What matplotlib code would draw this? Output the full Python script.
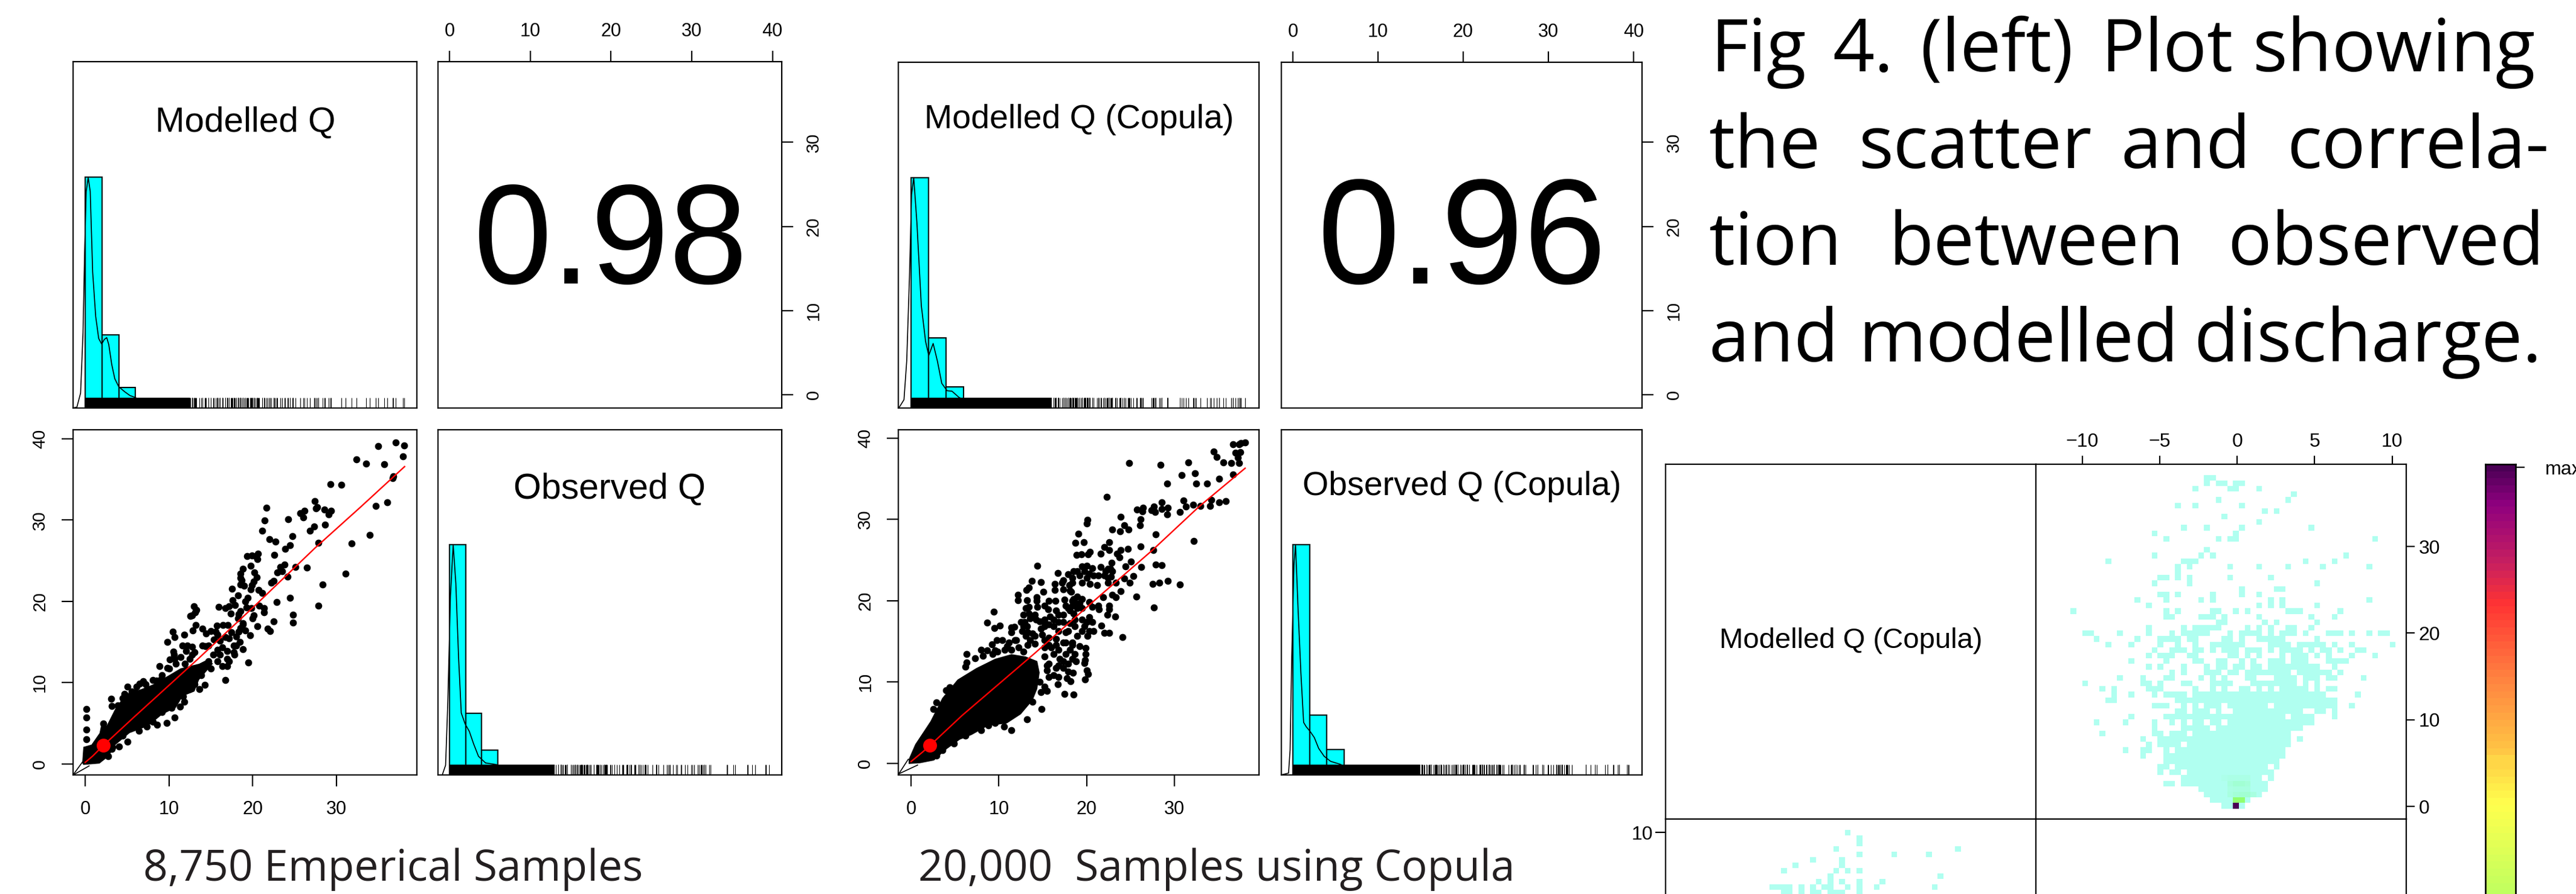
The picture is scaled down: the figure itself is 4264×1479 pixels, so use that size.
import numpy as np
import matplotlib
matplotlib.use("Agg")
import matplotlib.pyplot as plt
from matplotlib.colors import LinearSegmentedColormap

plt.rcParams['font.family'] = ['Liberation Sans', 'DejaVu Sans']

W, H = 4264, 1479

# ---- 8,750 empirical samples: modelled vs observed, points outside the solid mass
emp_x = [37.04,38.07,35.0,37.93,32.35,33.54,35.66,36.74,36.69,29.28,30.6,36.02,34.67,21.66,27.38,27.68,27.54,28.54,29.34,29.06,
         26.19,25.64,26.02,24.2,21.38,28.59,27.32,26.8,21.13,33.98,24.72,21.96,22.73,27.85,31.8,24.45,23.87,22.6,19.34,19.89,
         20.64,20.3,20.58,25.06,26.46,23.76,23.31,22.93,23.48,31.05,24.12,19.72,18.84,18.51,18.56,18.7,18.54,18.98,20.22,20.47,
         20.08,19.92,19.75,17.49,22.49,22.24,28.31,20.69,21.13,18.26,19.39,19.12,17.6,17.87,17.18,16.69,15.91,24.45,22.85,27.82,
         24.81,24.78,13.01,13.26,13.15,12.76,12.51,21.33,20.77,19.81,19.25,21.33,17.4,18.29,18.51,20.08,19.94,22.51,18.23,18.78,
         20.58,21.8,22.07,17.04,16.41,15.72,13.18,13.95,12.82,10.44,10.66,11.82,14.42,14.97,15.58,15.8,17.46,18.01,16.69,15.39,
         19.67,19.12,18.56,9.81,11.57,12.15,12.76,13.98,14.36,18.84,17.73,18.43,10.55,10.61,12.07,12.76,11.38,10.08,10.69,19.45,
         16.91,17.18,17.79,8.87,9.78,16.71,14.28,8.48,9.09,6.91,6.46,5.03,4.67,5.91,3.09,3.15,0.14,0.14,0.17,0.17,
         11.8,11.33,10.69,9.75,8.56,7.38,5.08,4.03,3.2,2.76,
         16.35,16.91,17.73,16.08,15.25,14.7,15.8,16.91,16.35,14.97,13.87,13.04,12.49,13.59,11.66,
         12.49,13.04,11.93,10.83,10.0,9.17,8.07,7.24,6.13,5.58,4.48,3.92,2.27,2.13,
         14.7,16.08,17.18,18.01,18.29,18.84,15.8,10.28,9.17,8.07,6.41,4.48,3.23]
emp_y = [39.55,39.2,39.12,37.87,37.5,36.93,36.87,35.42,35.14,34.4,34.37,32.2,31.72,31.55,32.32,31.58,31.44,31.3,31.12,30.73,
         31.18,30.87,30.3,30.07,29.93,29.47,29.19,28.7,28.68,28.19,28.05,27.65,27.34,27.23,27.11,26.91,26.49,25.69,25.6,25.66,
         25.86,25.6,25.18,24.24,24.15,24.52,24.21,23.56,23.7,23.39,23.02,24.35,23.98,23.41,22.9,22.56,22.05,21.9,23.56,22.99,
         22.42,21.99,21.51,21.56,22.48,22.28,22.08,21.37,21.05,20.71,20.43,20.0,20.14,19.57,19.37,19.2,19.29,20.43,19.94,19.43,
         18.35,17.41,19.37,18.98,18.63,18.24,18.18,19.15,19.43,19.15,19.23,18.66,18.52,18.44,18.8,18.29,17.87,17.5,17.87,17.3,
         16.93,16.67,16.36,17.1,17.07,17.01,17.1,16.64,16.39,16.27,15.59,15.87,16.01,16.36,16.3,15.87,16.16,15.68,15.59,15.31,
         15.79,16.44,16.73,15.02,14.59,14.59,14.37,14.59,14.45,14.08,14.59,15.02,13.8,13.46,13.88,13.46,13.17,12.83,12.89,12.49,
         12.03,12.6,13.46,12.03,11.83,10.33,9.7,10.24,10.47,10.18,9.84,9.47,8.62,8.76,7.97,7.11,6.71,5.69,4.21,3.02,
         7.62,7.06,5.69,5.01,4.78,4.58,2.7,2.16,1.85,0.94,
         14.31,13.88,13.74,13.46,13.46,12.6,12.6,12.89,12.03,11.75,10.9,9.76,9.19,9.19,8.34,
         12.89,13.74,12.32,12.32,11.75,10.9,10.33,9.76,9.47,8.9,8.05,7.2,4.35,4.92,
         14.59,15.16,15.45,14.59,16.3,17.16,14.03,6.91,6.34,5.21,4.07,3.5,2.08]
emp_mass_x = [-0.36,-0.22,0.75,1.71,1.99,2.54,3.65,4.89,6.69,8.07,10.0,11.38,13.59,14.7,15.25,
              13.59,13.04,11.66,10.83,9.17,7.51,5.3,3.65,2.82,1.71,-0.22]
emp_mass_y = [0.09,2.08,2.36,3.78,5.21,4.64,6.91,8.62,9.19,9.76,10.9,11.75,12.32,12.89,12.32,
              10.33,8.9,8.34,6.91,6.06,4.64,3.78,2.36,0.94,0.03,-0.14]
emp_fit_x = [0,0.88,2.13,5.86,13.59,20.5,27.4,32.92,38.12]
emp_fit_y = [0.17,0.94,2.22,5.78,13.03,19.71,26.54,31.66,36.59]
emp_centre = (2.18, 2.25)
emp_ellipse = [[(-1.46,-1.39),(0.47,-0.26)], [(-1.46,-1.39),(-0.22,0.37)]]

# ---- 20,000 copula samples
cop_x = [38.02,37.56,37.35,36.63,34.41,34.76,37.48,36.95,37.22,35.56,36.42,37.35,24.79,28.4,31.58,30.78,32.3,36.63,35.03,29.15,
         32.43,33.69,22.25,31.04,34.14,35.8,35.08,32.09,32.92,34.06,31.29,30.62,28.56,27.63,29.23,28.53,27.33,27.79,29.12,26.4,
         25.7,26.32,23.83,26.13,26.08,20.09,20.04,24.26,22.92,23.78,24.74,27.81,19.02,18.7,19.69,22.52,32.17,26.13,24.66,21.99,
         22.52,23.86,27.57,21.59,23.46,23.72,18.81,19.4,20.12,20.38,25.01,22.84,24.42,26.21,27.81,28.53,14.37,21.59,22.66,19.45,
         19.98,20.6,16.72,17.85,18.51,25.33,22.79,24.26,24.87,13.76,14.77,27.52,28.24,29.25,30.62,23.32,22.39,16.38,17.18,17.31,
         19.45,20.38,21.19,13.44,13.12,15.09,16.38,17.31,18.38,18.25,12.16,12.16,13.2,14.27,14.27,23.86,22.92,23.32,21.85,25.62,
         15.71,16.46,17.45,18.92,19.45,20.25,21.32,22.52,22.52,21.4,20.65,27.62,13.44,14.37,15.18,15.58,16.51,17.85,9.43,12.77,
         13.44,22.31,23.22,15.84,17.31,18.51,14.24,14.64,20.25,20.65,8.68,10.1,9.48,12.9,13.17,15.71,16.78,18.11,21.67,11.76,
         11.43,11.43,21.99,22.52,24.04,12.64,13.3,15.17,14.77,20.79,20.06,18.92,17.58,14.11,14.91,16.51,11.84,9.75,10.37,9.22,
         14.11,13.3,17.31,18.38,19.9,19.18,7.99,8.63,9.56,10.9,6.3,8.18,19.85,19.8,19.72,18.78,7.29,6.36,6.17,19.98,
         20.12,19.77,17.31,18.46,17.85,16.78,17.71,18.17,16.7,14.11,15.44,17.45,18.49,15.5,14.77,4.41,4.01,2.91,2.56,14.88,
         13.84,13.17,11.38,10.58,9.56,8.82,7.96,6.22,4.89,3.61,2.89,
         13.04,13.57,15.18,15.71,16.78,17.85,18.65,19.72,20.25,19.45,18.38,17.58,16.51,15.71,15.18,16.24,17.31,18.65,19.45,19.98,
         17.58,18.38,19.18,18.38,18.11,18.92,19.45,16.24,16.78,15.18,12.77,12.5,13.57,14.11,13.04,13.84,11.97,11.17,10.63,9.83,
         11.43,12.24,12.77,9.3,
         18.92,19.72,20.25,20.79,19.18,19.98,21.32,22.12,22.39,21.99,18.38,17.98,18.11,18.51,18.78,22.39,22.92,
         15.18,15.71,16.24,16.78,17.58,18.11,18.65,15.44,16.24,14.64,15.18,15.71,16.78,17.31,17.85,18.38,15.18,15.98,16.91,16.51,
         14.11,13.57]
cop_y = [39.46,39.4,39.2,39.23,38.32,37.64,38.27,38.18,37.56,36.96,36.93,36.93,36.93,36.68,36.96,35.45,35.65,35.48,34.97,34.4,
         34.4,34.4,32.78,32.3,32.39,32.24,32.07,31.82,31.62,31.65,31.56,30.91,32.1,31.59,31.42,31.25,31.14,30.91,30.6,31.39,
         31.19,30.97,30.31,30.0,29.29,29.94,29.46,29.29,28.72,28.55,28.72,28.18,28.21,27.1,27.16,27.16,27.33,26.65,26.39,26.59,
         26.19,26.19,26.19,25.77,25.77,25.34,25.63,25.71,25.68,25.97,24.77,24.63,24.2,24.15,24.43,24.35,24.26,24.15,23.92,24.2,
         24.26,23.98,23.41,23.21,23.58,23.01,22.98,22.73,22.22,22.44,22.3,22.07,22.19,22.44,21.96,22.22,22.22,22.07,22.22,22.5,
         22.22,22.07,21.93,21.59,21.31,21.11,21.31,21.36,22.22,21.08,20.71,20.06,20.06,20.45,20.0,21.16,20.74,20.45,20.45,20.48,
         20.0,20.0,20.09,20.51,20.23,19.8,19.38,19.38,18.95,18.95,19.23,19.15,19.23,19.23,19.38,18.95,18.81,19.09,18.66,18.24,
         18.38,18.24,18.01,18.01,18.24,18.38,17.67,17.44,17.95,17.39,17.27,16.96,16.65,17.39,16.82,17.1,17.39,17.24,16.9,16.76,
         16.68,16.11,16.02,16.05,15.48,16.25,16.11,16.82,16.53,16.25,15.68,15.68,16.11,15.68,15.82,15.26,15.17,15.17,15.11,14.63,
         14.69,14.55,14.83,14.55,14.2,14.4,13.95,13.84,13.84,14.4,13.41,13.21,13.41,12.7,12.33,12.5,12.9,12.41,11.85,11.42,
         10.99,10.34,11.7,11.14,11.28,10.57,10.43,10.06,9.72,11.42,11.99,8.52,8.47,8.86,8.72,9.35,8.95,7.5,6.65,6.65,
         7.58,5.37,4.03,4.49,4.97,4.66,4.09,3.38,2.41,1.62,0.91,
         15.68,15.11,15.11,15.4,16.25,16.25,16.82,16.82,16.25,16.25,14.83,14.83,14.55,14.55,17.39,17.67,17.39,17.67,17.67,17.39,
         19.38,19.38,19.66,19.94,18.81,19.09,19.09,16.82,18.24,17.67,16.82,17.39,17.81,18.24,19.09,15.97,15.11,14.83,13.98,13.69,
         13.98,14.26,13.69,13.41,
         23.64,23.64,23.35,23.07,23.07,22.78,23.07,23.64,23.92,23.07,22.78,21.93,21.22,20.23,19.66,22.78,23.64,
         13.13,12.27,13.41,13.98,13.41,13.98,13.41,11.42,10.85,10.0,9.43,10.57,11.99,12.56,12.27,12.84,14.26,14.26,12.84,11.7,
         10.57,9.72]
cop_mass_x = [-0.27,0.48,2.22,3.55,5.29,7.43,9.56,11.43,13.04,14.37,14.64,14.37,13.84,12.5,10.9,8.76,6.89,5.56,4.09,2.62,1.02,-0.27]
cop_mass_y = [0.48,2.33,5.17,8.01,10.28,11.7,12.84,13.41,13.13,12.56,11.14,9.15,7.73,6.02,4.89,4.6,3.47,2.9,1.76,0.34,0.0,-0.09]
cop_fit_x = [0,1.28,2.22,5.82,14.11,20.79,27.46,32.81,38.02]
cop_fit_y = [0.2,1.34,2.24,5.88,13.55,19.94,26.19,31.59,36.28]
cop_centre = (2.16, 2.24)
cop_ellipse = [[(-1.39,-1.31),(-0.32,0.48)], [(-1.39,-1.31),(0.75,-0.23)]]

# histograms, breaks every 2 units, heights relative to the tallest bar
hist_edges = [0,2,4,6,8]
emp_mod_hist = [1.0,0.316,0.09,0.012]
emp_obs_hist = [1.0,0.267,0.108,0.007]
cop_mod_hist = [1.0,0.304,0.093,0.012]
cop_obs_hist = [1.0,0.26,0.111,0.007]

emp_mod_kde_x = [-1.47,-0.99,-0.55,-0.26,-0.07,0.12,0.36,0.6,0.89,1.25,1.61,1.97,2.28,2.57,2.81,3.17,3.53,4.01,4.73,5.34,5.94,8]
emp_mod_kde_y = [0,0.004,0.065,0.327,0.676,0.938,0.999,0.938,0.589,0.397,0.301,0.277,0.297,0.305,0.275,0.188,0.127,0.092,0.07,0.054,0.046,0.01]
emp_obs_kde_x = [-1.41,-1.0,-0.87,-0.47,-0.2,0.13,0.47,0.8,1.14,1.47,1.94,2.47,3.0,3.6,4.48,5.81,7.8]
emp_obs_kde_y = [0,0,0.001,0.042,0.31,0.777,1.0,0.832,0.509,0.269,0.222,0.189,0.135,0.081,0.052,0.045,0.01]
cop_mod_kde_x = [-1.47,-1.29,-0.8,-0.49,-0.18,0.06,0.31,0.67,1.17,1.66,2.02,2.52,3.0,3.5,4.11,4.66,5.46,7.3]
cop_mod_kde_y = [0,0.006,0.036,0.204,0.565,0.926,1.0,0.805,0.445,0.288,0.228,0.28,0.204,0.107,0.075,0.073,0.046,0.012]
cop_obs_kde_x = [-1.38,-0.5,-0.32,-0.13,0.13,0.32,0.63,0.95,1.27,1.58,2.03,2.53,3.04,3.68,4.44,5.58,7.5]
cop_obs_kde_y = [0,0.008,0.108,0.51,0.91,1.0,0.71,0.443,0.228,0.209,0.189,0.162,0.115,0.081,0.059,0.046,0.01]

# where the rug stops being a solid block
emp_mod_rug_solid = 12.5
emp_obs_rug_solid = 13.0
cop_mod_rug_solid = 16.0
cop_obs_rug_solid = 15.0

# ---- levelplot cells, read per row as column numbers (top row first)
upper_cells = ["23-24","23 25-26 28-29","21 27-28 32","38","25 37","18 21 29","33 35","26","32","19 23 29 41","14 28",
    "16 25 27-28 52","","23","14 22 24 47","6 19-21 40 45","18 20 27 32 37 43 51","18","15-16 18 20 27 34","14 20 42",
    "29 35-36","15-16 18 24 29 32","11 16 22 24 34 36 51","13 32 34 36 42","0 16 18 24-25 28 30 37-39 46",
    "16-17 22-24 26 32 41 45","25-26 33 35 42","13 19 21-25 30 32 34 37-38 41",
    "2-3 8 13 17 19-23 27 29-32 34 36-38 40 44-46 48 51 53-54","4 11 15-18 20-21 26-27 29 32-36 42",
    "6 10 15 18 21 24-29 34-37 39-43 45 48 55","14 17-19 21-22 24 26-28 30-32 34 36-39 41 43-44 46 49-50",
    "13 15-17 20-21 27-28 30 32 36 38-40 42 44 48 52","10 16 21-22 25-26 29 31 34-36 38-40 44-47",
    "13 15 19 23 25-26 28-29 31-32 34-42 45","17 19 23-25 27-28 30-37 39-44 46",
    "8 12 16-17 22 24 26 30-31 35-38 40-42 44-45 50","2 12-13 15 19-20 24-27 31-38 40 42",
    "5 7 13-15 21 24 26 29-30 32 34 36-40 42 44-45","7 10 14 16-19 21-43 49","6-7 18-45",
    "14-16 19 21 23-25 27-33 35-45 48","18-19 21-23 25 28-39 42-43 45","10 16-36 38-41 45",
    "4 9 14 17 19 21-22 24-25 27-41","14 19-23 25-39","5 14-15 17-19 21-37","12 15-37 39","13 15-18 20-37",
    "9 12-13 16 18-36","12 16-36","16-35","15-16 18-33 35","15 17-18 20-34","19-32 34","16-17 19-33","22-33","23-32",
    "24-30","26-29"]
# (row counted from the bottom, column, level between 0 and 1)
upper_peaks = [(1,28,1.0),(2,28,0.25),(2,29,0.25),(3,27,0.05),(3,28,0.08),(3,29,0.09),(3,30,0.09),(3,31,0.05),
    (4,27,0.04),(4,28,0.05),(4,29,0.05),(4,30,0.05),(5,27,0.06),(5,28,0.09),(5,29,0.09),(5,30,0.07),
    (6,26,0.02),(6,27,0.03),(6,28,0.03),(6,29,0.03),(6,30,0.03)]
upper_col_start, upper_col_step = -10.76, 0.3746
upper_row_start, upper_row_step = -0.25, 0.642

lower_cells = ["13","15","15","11 32","15 21 27","7 12","4 12","2 11 13 15","10 29","8 10 12 15 19",
    "0-3 5 7 9-10 13 15 18 28","2-3 5 7-8 10-12 15"]
lower_col_start, lower_col_step = 10.53, 0.67
lower_row_top, lower_row_step = 10.16, 0.353

# colours of the key, from the lowest level up
key_levels = [0,0.1,0.25,0.394,0.521,0.602,0.703,0.806,0.863,0.947,1.0]
key_colors = ['#B0FFF0','#A0FFD0','#90FF70','#BFFF5F','#FFFF4D','#FFC244','#FF8040','#FF3333','#C8205F','#8F007F','#4B0055']
cmap = LinearSegmentedColormap.from_list('qdiff', list(zip(key_levels, key_colors)), N=100)

caption = [
    (["Fig","4.","(left)","Plot","showing"], [2831,3033,3178,3477,3729], 118),
    (["the","scatter","and","correla-"], [2828,3077,3511,3785], 278),
    (["tion","between","observed"], [2828,3127,3687], 438),
    (["and","modelled","discharge."], [2828,3077,3631], 598),
]
CAPTION_FONT = ['Open Sans', 'DejaVu Sans']
INK = '#231F20'

fig = plt.figure(figsize=(W / 100, H / 100), dpi=100)


def panel(l, t, r, b):
    ax = fig.add_axes([l / W, 1 - b / H, (r - l) / W, (b - t) / H])
    for s in ax.spines.values():
        s.set_linewidth(1.6)
    ax.set_xticks([])
    ax.set_yticks([])
    return ax


def px_text(x, y, s, **kw):
    return fig.text(x / W, 1 - y / H, s, **kw)


def hist_panel(ax, xlim, heights, kde_x, kde_y, rug, solid):
    ax.set_xlim(xlim)
    ax.set_ylim(0, 1.5)
    ax.bar(hist_edges[:-1], heights, width=2, align='edge', color='cyan', edgecolor='k', linewidth=1.5)
    ax.plot(kde_x, kde_y, color='k', lw=1.2)
    ax.vlines(rug, 0, 0.045, color='k', lw=0.7)
    ax.fill_between([0, solid], 0, 0.045, color='k', lw=0)


def scatter_panel(ax, xlim, ylim, x, y, mass_x, mass_y, fit_x, fit_y, centre, ell, xt):
    ax.set_xlim(xlim)
    ax.set_ylim(ylim)
    ax.fill(mass_x, mass_y, color='k', lw=0)
    ax.plot(x, y, 'o', color='k', ms=8.4, mew=0)
    for seg in ell:
        ax.plot(*zip(*seg), color='k', lw=1.2)
    ax.plot(fit_x, fit_y, color='red', lw=1.7)
    ax.plot(*centre, 'o', color='red', ms=16.5, mew=0)
    ax.set_xticks(xt)
    ax.set_yticks([0, 10, 20, 30, 40])
    ax.tick_params(axis='x', length=14, width=1.6, labelsize=22, pad=16)
    ax.tick_params(axis='y', length=14, width=1.6, labelsize=21, pad=15, labelrotation=90)
    for lab in ax.get_yticklabels():
        lab.set_va('center')


def corr_panel(ax, xlim, ylim):
    ax.set_xlim(xlim)
    ax.set_ylim(ylim)
    ax.set_xticks([0, 10, 20, 30, 40])
    ax.set_yticks([0, 10, 20, 30])
    ax.xaxis.tick_top()
    ax.yaxis.tick_right()
    ax.tick_params(axis='x', length=13, width=1.6, labelsize=22, pad=12)
    ax.tick_params(axis='y', length=14, width=1.6, labelsize=21, pad=14, labelrotation=90)
    for lab in ax.get_yticklabels():
        lab.set_va('center')


# ---- left pair plot
ax = panel(120.5, 102, 690, 675)
hist_panel(ax, (-1.48, 39.58), emp_mod_hist, emp_mod_kde_x, emp_mod_kde_y, emp_x, emp_mod_rug_solid)
ax = panel(725, 102, 1294, 675)
corr_panel(ax, (-1.41, 41.15), (-1.55, 39.58))
ax = panel(120.5, 710.6, 690, 1282)
scatter_panel(ax, (-1.48, 39.58), (-1.37, 41.15), emp_x, emp_y, emp_mass_x, emp_mass_y, emp_fit_x, emp_fit_y,
              emp_centre, emp_ellipse, [0, 10, 20, 30])
ax = panel(725, 710.6, 1294, 1282)
hist_panel(ax, (-1.41, 41.15), emp_obs_hist, emp_obs_kde_x, emp_obs_kde_y, emp_y, emp_obs_rug_solid)
px_text(406, 218, "Modelled Q", fontsize=42, ha='center', va='baseline')
px_text(1009, 825, "Observed Q", fontsize=42.5, ha='center', va='baseline')
px_text(1011, 469, "0.98", fontsize=168, ha='center', va='baseline')

# ---- middle pair plot
ax = panel(1486.6, 103, 2084, 675)
hist_panel(ax, (-1.47, 39.6), cop_mod_hist, cop_mod_kde_x, cop_mod_kde_y, cop_x, cop_mod_rug_solid)
ax = panel(2120.5, 103, 2718, 675)
corr_panel(ax, (-1.38, 41.0), (-1.55, 39.5))
ax = panel(1486.6, 710.6, 2084, 1282)
scatter_panel(ax, (-1.47, 39.6), (-1.44, 41.04), cop_x, cop_y, cop_mass_x, cop_mass_y, cop_fit_x, cop_fit_y,
              cop_centre, cop_ellipse, [0, 10, 20, 30])
ax = panel(2120.5, 710.6, 2718, 1282)
hist_panel(ax, (-1.38, 41.0), cop_obs_hist, cop_obs_kde_x, cop_obs_kde_y, cop_y, cop_obs_rug_solid)
px_text(1786, 212, "Modelled Q (Copula)", fontsize=40, ha='center', va='baseline')
px_text(2420, 819, "Observed Q (Copula)", fontsize=40, ha='center', va='baseline')
px_text(2420, 469, "0.96", fontsize=177, ha='center', va='baseline')

# ---- lattice plot on the right, its lower half runs off the page
ax = panel(2757, 768, 3370, 1355)
px_text(3064, 1072, "Modelled Q (Copula)", fontsize=34, ha='center', va='baseline')

ax = panel(3370, 768, 3983, 1355)
ax.set_xlim(-13.0, 10.91)
ax.set_ylim(-1.465, 39.5)
n_rows, n_cols = len(upper_cells), 56
z = np.full((n_rows, n_cols), np.nan)
for i, row in enumerate(upper_cells):
    for part in row.split():
        a, _, b = part.partition('-')
        z[n_rows - 1 - i, int(a):int(b or a) + 1] = 0.0
for r, k, v in upper_peaks:
    z[r - 1, k] = v
xe = upper_col_start + upper_col_step * np.arange(n_cols + 1)
ye = upper_row_start + upper_row_step * np.arange(n_rows + 1)
ax.pcolormesh(xe, ye, z, cmap=cmap, vmin=0, vmax=1, lw=0)
ax.xaxis.tick_top()
ax.yaxis.tick_right()
ax.set_xticks([-10, -5, 0, 5, 10], ['\u221210', '\u22125', '0', '5', '10'])
ax.set_yticks([0, 10, 20, 30])
ax.tick_params(axis='x', length=10, width=1.6, labelsize=23, pad=6)
ax.tick_params(axis='y', length=10, width=1.6, labelsize=23, pad=5)

ax = panel(2757, 1355, 3370, 1942)
ax.set_xlim(-1.465, 41.3)
ax.set_ylim(-12.07, 10.86)
z = np.full((len(lower_cells), 45), np.nan)
for i, row in enumerate(lower_cells):
    for part in row.split():
        a, _, b = part.partition('-')
        z[i, int(a):int(b or a) + 1] = 0.0
xe = lower_col_start + lower_col_step * np.arange(46)
ye = lower_row_top - lower_row_step * np.arange(len(lower_cells) + 1)
ax.pcolormesh(xe, ye, z, cmap=cmap, vmin=0, vmax=1, lw=0)
ax.set_yticks([10], ['10'])
ax.tick_params(axis='y', length=12, width=1.6, labelsize=23, pad=3)

ax = panel(3370, 1355, 3983, 1942)

# key
ax = panel(4114, 768, 4164, 1942)
key = np.linspace(0, 1, 101)
ax.pcolormesh([0, 1], key, key[:-1, None], cmap=cmap, vmin=0, vmax=1)
ax.set_ylim(0, 1)
ax.yaxis.tick_right()
ax.set_yticks([0.9957], ['max'])
ax.tick_params(axis='y', length=11, width=1.6, labelsize=23, pad=24)
for s in ax.spines.values():
    s.set_linewidth(1.9)

# ---- typeset caption
for words, xs, base in caption:
    for w, x in zip(words, xs):
        px_text(x, base, w, fontsize=87, family=CAPTION_FONT, ha='left', va='baseline', color='k')
px_text(651, 1457, "8,750 Emperical Samples", fontsize=51.3, family=CAPTION_FONT, ha='center', va='baseline', color=INK)
px_text(2014, 1457, "20,000  Samples using Copula", fontsize=51.3, family=CAPTION_FONT, ha='center', va='baseline', color=INK)

fig.savefig('out.png', dpi=100)
